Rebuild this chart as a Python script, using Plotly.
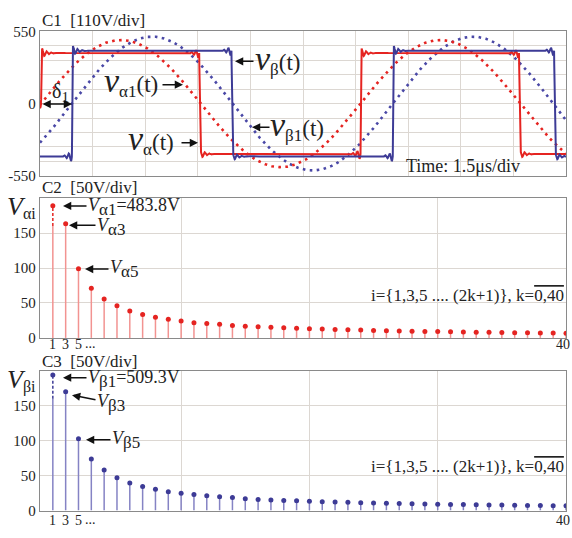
import numpy as np
import plotly.graph_objects as go

# ---------------- data ----------------
# Panel C1 : oscilloscope time traces (time in microseconds, 1.5 us/div, 10 div)
time_per_div = 1.5
n_div = 10
red_edges_us = [0.03, 4.54, 9.14, 13.66]      # v_alpha(t) switching instants
blue_edges_us = [0.91, 5.46, 10.06, 14.66]    # v_beta(t) switching instants
red_level = 384.0                              # v_alpha plateau (V)
blue_level = 402.0                             # v_beta plateau (V)
red_start = 0.0
blue_start = -402.0

# Panels C2 / C3 : harmonic amplitudes, i = 2k+1, k = 0..40
k_idx = list(range(41))
V_alpha = [483.8, 163.5, 99.0, 71.0, 55.5, 46.0, 38.5, 33.5, 29.5, 26.5,
           24.3, 21.8, 20.6, 19.5, 17.8, 16.8, 15.9, 15.2, 14.4, 13.8,
           13.2, 12.6, 12.1, 11.6, 11.2, 10.7, 10.3, 10.0, 9.6, 9.3,
           9.0, 8.7, 8.4, 8.2, 7.9, 7.7, 7.5, 7.3, 7.1, 6.9, 6.6]
V_beta = [509.3, 170.0, 103.0, 74.0, 58.0, 47.0, 39.5, 34.5, 30.5, 27.0,
          25.0, 23.0, 21.2, 19.8, 18.6, 17.0, 16.0, 15.2, 14.6, 14.0,
          13.4, 12.8, 12.3, 11.8, 11.3, 10.9, 10.5, 10.1, 9.8, 9.5,
          9.2, 8.9, 8.6, 8.3, 8.1, 7.9, 7.6, 7.4, 7.2, 7.0, 6.8]
axis_break = 160.0          # fundamental stem drawn dashed above this
fund_shown = [189.0, 194.0]  # plotted position of the (off-scale) fundamental markers
harm_tickvals = [0, 1, 2]
harm_ticktext = ["1", "3", "5"]

# ---------------- colours ----------------
RED = "#e52421"
BLUE = "#3d3b96"
RED_STEM = "#f29391"
BLUE_STEM = "#8583c4"
GRID = "#dcd7d2"
BORDER = "#8a8a8a"
FONT = "Liberation Serif"
TXT = "#222"

W, H = 572, 538
def px(x): return x / W
def py(y): return 1 - y / H

# ---------------- build time traces ----------------
t = np.arange(0, time_per_div * n_div + 1e-9, 0.004)

def square(edges, start, level):
    v = np.full_like(t, start)
    ramp = 0.03
    prev = start
    for i, te in enumerate(edges):
        new = level if i % 2 == 0 else -level
        frac = np.clip((t - te) / ramp, 0, 1)
        v = np.where(t >= te, prev + (new - prev) * frac, v)
        prev = new
    ring = np.zeros_like(t)
    for te in edges:
        ring += 45 * np.exp(-np.abs(t - te) / 0.13) * np.sin(2 * np.pi * 8 * (t - te)) * (t > te - 0.3)
    return v + ring

v_red = square(red_edges_us, red_start, red_level)
v_blue = square(blue_edges_us, blue_start, blue_level)
T_red = red_edges_us[2] - red_edges_us[0]
T_blue = blue_edges_us[2] - blue_edges_us[0]
v_red1 = V_alpha[0] * np.sin(2 * np.pi * (t - red_edges_us[0]) / T_red)
v_blue1 = V_beta[0] * np.sin(2 * np.pi * (t - blue_edges_us[0]) / T_blue)

fig = go.Figure()

fig.add_trace(go.Scatter(x=t, y=v_blue1, mode="lines", xaxis="x", yaxis="y",
                         line=dict(color="#4a48a6", width=2.6, dash="2.6px,4.4px"), hoverinfo="skip"))
fig.add_trace(go.Scatter(x=t, y=v_red1, mode="lines", xaxis="x", yaxis="y",
                         line=dict(color=RED, width=2.6, dash="2.6px,4.4px"), hoverinfo="skip"))
fig.add_trace(go.Scatter(x=t, y=v_red, mode="lines", xaxis="x", yaxis="y",
                         line=dict(color=RED, width=2), hoverinfo="skip"))
fig.add_trace(go.Scatter(x=t, y=v_blue, mode="lines", xaxis="x", yaxis="y",
                         line=dict(color=BLUE, width=2), hoverinfo="skip"))

# ---------------- stems ----------------
def stems(vals, shown, stem_col, mk_col, xa, ya):
    xs, ys = [], []
    for k, v in zip(k_idx[1:], vals[1:]):
        xs += [k, k, None]
        ys += [0, v, None]
    fig.add_trace(go.Scatter(x=xs, y=ys, mode="lines", xaxis=xa, yaxis=ya,
                             line=dict(color=stem_col, width=1.5), hoverinfo="skip"))
    fig.add_trace(go.Scatter(x=[k_idx[0], k_idx[0]], y=[0, axis_break], mode="lines",
                             xaxis=xa, yaxis=ya, line=dict(color=stem_col, width=1.5),
                             hoverinfo="skip"))
    fig.add_trace(go.Scatter(x=[k_idx[0], k_idx[0]], y=[axis_break, shown], mode="lines",
                             xaxis=xa, yaxis=ya, line=dict(color=mk_col, width=1.5, dash="3px,2px"),
                             hoverinfo="skip"))
    fig.add_trace(go.Scatter(x=k_idx, y=[shown] + vals[1:], mode="markers", xaxis=xa, yaxis=ya,
                             marker=dict(color=mk_col, size=5), hoverinfo="skip"))

stems(V_alpha, fund_shown[0], RED_STEM, RED, "x2", "y2")
stems(V_beta, fund_shown[1], BLUE_STEM, BLUE, "x3", "y3")

# ---------------- axes ----------------
xdom = [px(40), px(566)]
common = dict(showline=True, mirror=True, linecolor=BORDER, linewidth=1.3, zeroline=False,
              ticks="", tickfont=dict(family=FONT, size=15, color=TXT))
harm_x = dict(domain=xdom, range=[-1, 40], showticklabels=False, showgrid=False,
              minor=dict(tickmode="array", tickvals=[10, 20, 30], showgrid=True, gridcolor=GRID),
              **common)
fig.update_layout(
    xaxis=dict(domain=xdom, anchor="y", range=[0, time_per_div * n_div], dtick=time_per_div,
               showticklabels=False, showgrid=True, gridcolor=GRID, gridwidth=1, **common),
    yaxis=dict(domain=[py(173), py(24)], anchor="x", range=[-550, 550],
               tickmode="array", tickvals=[-550, 0, 550], ticktext=["-550", "0", "550"],
               showgrid=True, gridcolor=GRID,
               minor=dict(tickmode="array", tickvals=[-440, -330, -220, -110, 110, 220, 330, 440],
                          showgrid=True, gridcolor=GRID),
               **common),
    xaxis2=dict(anchor="y2", **harm_x),
    yaxis2=dict(domain=[py(340), py(196)], anchor="x2", range=[0, 200],
                tickmode="array", tickvals=[0, 50, 100, 150], showgrid=True, gridcolor=GRID, **common),
    xaxis3=dict(anchor="y3", **harm_x),
    yaxis3=dict(domain=[py(518), py(374)], anchor="x3", range=[0, 200],
                tickmode="array", tickvals=[0, 50, 100, 150], showgrid=True, gridcolor=GRID, **common),
)

# ---------------- annotations ----------------
ann = []
def txt(s, x, y, size=17, xanchor="left", yanchor="middle"):
    ann.append(dict(text=s, x=px(x), y=py(y), xref="paper", yref="paper", showarrow=False,
                    xanchor=xanchor, yanchor=yanchor, borderpad=0,
                    font=dict(family=FONT, size=size, color=TXT)))
def arrow(xh, yh, xt, yt, side="end"):
    ann.append(dict(text="", x=px(xh), y=py(yh), xref="paper", yref="paper", showarrow=True,
                    ax=xt - xh, ay=yt - yh, arrowhead=2, arrowsize=1.1, arrowwidth=1.5,
                    arrowcolor="#111", arrowside=side, standoff=0, startstandoff=0))

# harmonic-order tick labels under C2 and C3
for xa, ylab in (("x2", 347), ("x3", 528)):
    for kv, kt in zip(harm_tickvals, harm_ticktext):
        ann.append(dict(text=kt, x=kv, y=py(ylab), xref=xa, yref="paper", showarrow=False,
                        xanchor="center", yanchor="middle", borderpad=0,
                        font=dict(family=FONT, size=14, color=TXT)))
    txt("...", 84, ylab - 1, 14)
    ann.append(dict(text=str(k_idx[-1]), x=px(571), y=py(ylab), xref="paper", yref="paper",
                    showarrow=False, xanchor="right", yanchor="middle", borderpad=0,
                    font=dict(family=FONT, size=14, color=TXT)))

NB = "\u00a0"
def vlab(sub, big=34):
    return ("<span style='font-size:%dpx'><i>v</i></span><sub><span style='font-size:17px'>%s</span></sub>(t)"
            % (big, sub))
def Vlab(sub, rest=""):
    return "<i>V</i><sub><span style='font-size:17px'>%s</span></sub>%s" % (sub, rest)

# C1
txt("C1" + NB * 2 + "[110V/div]", 41, 13, 17)
txt("δ<sub><span style='font-size:15px'>1</span></sub>", 51, 87, 20)
arrow(72, 99, 41, 99, side="end+start")
arrow(235, 55, 255, 55)
txt(vlab("β"), 254, 53, 23)
txt(vlab("α1"), 103, 76, 23)
arrow(183, 79, 161, 79)
txt(vlab("α"), 127, 136, 23)
arrow(198, 139, 180, 139)
arrow(252, 123, 271, 123)
txt(vlab("β1"), 269, 121, 23)
txt("Time: 1.5μs/div", 405, 163, 18)
# C2
txt("C2" + NB * 2 + "[50V/div]", 41, 185, 17)
txt("<span style='font-size:26px'><i>V</i></span><sub><span style='font-size:16px'>αi</span></sub>",
    6, 205, 18)
arrow(63, 204, 88, 204)
txt(Vlab("α1", "=483.8V"), 87, 205, 18)
arrow(69, 224, 97, 224)
txt(Vlab("α3"), 96, 226, 18)
arrow(85, 269, 110, 269)
txt(Vlab("α5"), 109, 269, 18)
txt("i={1,3,5 .... (2k+1)}, k=<span style='text-decoration:overline'>0,40</span>", 565, 296, 17, xanchor="right")
# C3
txt("C3" + NB * 2 + "[50V/div]", 41, 364, 17)
txt("<span style='font-size:26px'><i>V</i></span><sub><span style='font-size:16px'>βi</span></sub>",
    6, 384, 18)
arrow(63, 381, 88, 381)
txt(Vlab("β1", "=509.3V"), 87, 382, 18)
arrow(72, 399, 97, 404)
txt(Vlab("β3"), 96, 407, 18)
arrow(86, 445, 112, 445)
txt(Vlab("β5"), 111, 445, 18)
txt("i={1,3,5 .... (2k+1)}, k=<span style='text-decoration:overline'>0,40</span>", 565, 473, 17, xanchor="right")

fig.update_layout(width=W, height=H, margin=dict(l=0, r=0, t=0, b=0),
                  paper_bgcolor="white", plot_bgcolor="white", showlegend=False,
                  annotations=ann, font=dict(family=FONT))

fig.write_html("out.html")
